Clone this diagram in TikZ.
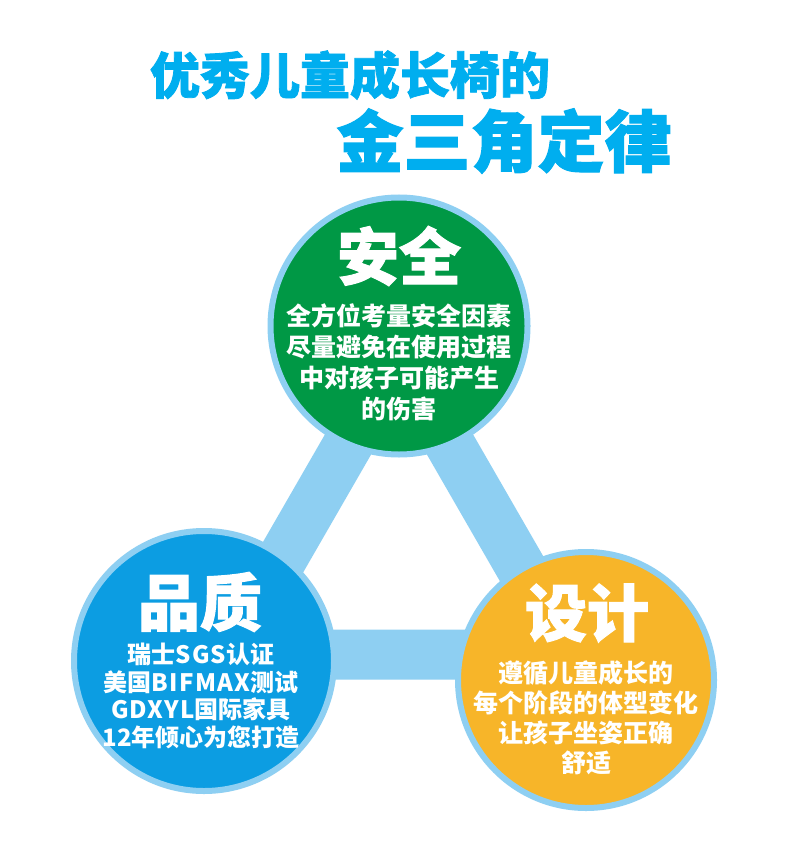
\documentclass[tikz,border=0pt]{standalone}
\usepackage{fontspec}
\setmainfont{Noto Sans CJK SC}
\newfontfamily\heavyfont{Noto Sans CJK SC}[FakeBold=1.6]
\definecolor{titlecyan}{RGB}{0,174,239}
\definecolor{ringblue}{RGB}{142,207,242}
\definecolor{safegreen}{RGB}{0,152,69}
\definecolor{qualblue}{RGB}{12,157,226}
\definecolor{desorange}{RGB}{247,181,41}
\tikzset{
  disc/.style={circle, draw=ringblue, line width=6pt, inner sep=0pt, minimum size=#1},
  headtxt/.style={text=white, font=\heavyfont\bfseries\fontsize{62}{62}\selectfont, inner sep=0pt},
  bodytxt/.style={text=white, align=center, inner sep=0pt, font=\bfseries\fontsize{25}{#1}\selectfont},
  titletxt/.style={text=titlecyan, inner sep=0pt, font=\heavyfont\bfseries\fontsize{#1}{#1}\selectfont}
}
\begin{document}
\begin{tikzpicture}[x=1pt, y=-1pt]
\useasboundingbox (0,0) rectangle (790,850);
\fill[white] (0,0) rectangle (790,850);
% triangle frame
\coordinate (t1) at (399,356);
\coordinate (t2) at (227,654.5);
\coordinate (t3) at (571,654.5);
\draw[ringblue, line width=50pt, line join=miter] (t1) -- (t2) -- (t3) -- cycle;
% circles
\node[disc=257pt, fill=safegreen] (safe) at (399,326) {};
\node[disc=260pt, fill=qualblue] (qual) at (204,661) {};
\node[disc=256pt, fill=desorange] (des) at (586,680) {};
% headings
\node[headtxt] (safeh) at (399,256) {安全};
\node[headtxt] (qualh) at (200,602) {品质};
\node[headtxt] (desh) at (587,613) {设计};
% body texts
\node[bodytxt=31] (safeb) at (399,362.5) {全方位考量安全因素\\尽量避免在使用过程\\中对孩子可能产生\\的伤害};
\node[bodytxt=27.5, font=\bfseries\fontsize{24}{27.5}\selectfont] (qualb) at (201,696) {瑞士{\addfontfeature{LetterSpace=5}SGS}认证\\美国{\addfontfeature{LetterSpace=5}BIFMAX}测试\\{\addfontfeature{LetterSpace=5}GDXYL}国际家具\\12年倾心为您打造};
\node[bodytxt=30] (desb) at (586,717.5) {遵循儿童成长的\\每个阶段的体型变化\\让孩子坐姿正确\\舒适};
% title
\node[titletxt=50] (title1) at (350,75) {优秀儿童成长椅的};
\node[titletxt=67] (title2) at (504,141) {金三角定律};
\end{tikzpicture}
\end{document}
